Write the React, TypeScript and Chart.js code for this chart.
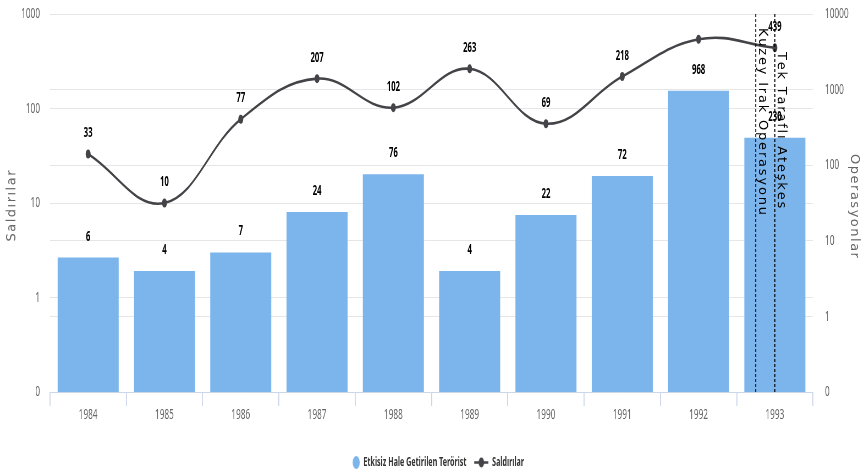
import { useEffect, useRef } from 'react';
import { Chart, registerables } from 'chart.js';

Chart.register(...registerables);

const years = ['1984', '1985', '1986', '1987', '1988', '1989', '1990', '1991', '1992', '1993'];
const etkisizHale = [6, 4, 7, 24, 76, 4, 22, 72, 968, 230];
const saldirilar = [33, 10, 77, 207, 102, 263, 69, 218, 540, 439];
const leftTicks = [0.1, 1, 10, 100, 1000];
const rightTicks = [0.1, 1, 10, 100, 1000, 10000];
const hiddenSaldiriLabels = ['1992'];
const leftTitle = 'Saldırılar';
const rightTitle = 'Operasyonlar';
const plotLines = [
  { at: 8.75, text: 'Kuzey Irak Operasyonu', offset: 14 },
  { at: 9, text: 'Tek Taraflı Ateşkes', offset: 38 },
];

// The reference is horizontally compressed; draw wide and squeeze with CSS.
const SQ = 0.55;
const OUT_W = 864;
const OUT_H = 475;
const CW = Math.round(OUT_W / SQ);

const FONT = "'Noto Sans', 'Open Sans', sans-serif";
const BAR_COLOR = '#7cb5ec';
const LINE_COLOR = '#434348';

const tickLabel = (v: any) => (Number(v) === 0.1 ? '0' : String(Number(v)));

// draw text with manual letter spacing along local x, starting at x (left) or centred
function spacedText(ctx: any, text: string, x: number, y: number, spacing: number, center: boolean) {
  const chars = Array.from(text);
  const widths = chars.map((c) => ctx.measureText(c).width);
  const total = widths.reduce((a, b) => a + b, 0) + spacing * (chars.length - 1);
  let cx = center ? x - total / 2 : x;
  ctx.textAlign = 'left';
  chars.forEach((c, i) => {
    ctx.fillText(c, cx, y);
    cx += widths[i] + spacing;
  });
}

const overlay = {
  id: 'overlay',
  afterDatasetsDraw(chart: any) {
    const ctx = chart.ctx;
    const area = chart.chartArea;
    const x = chart.scales.x;
    ctx.save();
    // dashed plot lines
    ctx.strokeStyle = '#000';
    ctx.lineWidth = 1 / SQ;
    ctx.setLineDash([3, 2]);
    plotLines.forEach((p) => {
      const px = x.getPixelForValue(p.at);
      ctx.beginPath();
      ctx.moveTo(px, area.top);
      ctx.lineTo(px, area.bottom);
      ctx.stroke();
    });
    ctx.setLineDash([]);
    // rotated annotation text (undo the horizontal squeeze)
    ctx.fillStyle = '#000';
    ctx.font = "13px 'DejaVu Sans', sans-serif";
    ctx.textBaseline = 'alphabetic';
    plotLines.forEach((p) => {
      const px = x.getPixelForValue(p.at);
      ctx.save();
      ctx.translate(px + 3 / SQ, area.top + p.offset);
      ctx.scale(1 / SQ, 1);
      ctx.rotate(Math.PI / 2);
      spacedText(ctx, p.text, 0, 0, 1.8, false);
      ctx.restore();
    });
    // axis titles
    ctx.fillStyle = '#666';
    ctx.font = "13px 'DejaVu Sans', sans-serif";
    ctx.textBaseline = 'middle';
    const midY = (area.top + area.bottom) / 2 + 3;
    ctx.save();
    ctx.translate(12 / SQ, midY);
    ctx.scale(1 / SQ, 1);
    ctx.rotate(-Math.PI / 2);
    spacedText(ctx, leftTitle, 0, 0, 1.5, true);
    ctx.restore();
    ctx.save();
    ctx.translate(chart.width - 10 / SQ, midY);
    ctx.scale(1 / SQ, 1);
    ctx.rotate(Math.PI / 2);
    spacedText(ctx, rightTitle, 0, 0, 1.5, true);
    ctx.restore();
    // value labels
    ctx.font = `bold 14px ${FONT}`;
    ctx.fillStyle = '#000';
    ctx.textAlign = 'center';
    ctx.textBaseline = 'middle';
    chart.data.datasets.forEach((ds: any, di: number) => {
      const meta = chart.getDatasetMeta(di);
      meta.data.forEach((el: any, i: number) => {
        if (ds.type === 'line' && hiddenSaldiriLabels.includes(years[i])) return;
        ctx.fillText(String(ds.data[i]), el.x, el.y - 21);
      });
    });
    ctx.restore();
  },
};

const ICON_W = 36;

function makeBarIcon() {
  const c = document.createElement('canvas');
  c.width = ICON_W;
  c.height = 13;
  const g = c.getContext('2d')!;
  g.fillStyle = BAR_COLOR;
  g.beginPath();
  g.arc(ICON_W - 6.5, 6.5, 6.5, 0, Math.PI * 2);
  g.fill();
  return c;
}

function makeLineIcon() {
  const c = document.createElement('canvas');
  c.width = ICON_W;
  c.height = 13;
  const g = c.getContext('2d')!;
  g.strokeStyle = LINE_COLOR;
  g.lineWidth = 2.5;
  g.beginPath();
  g.moveTo(ICON_W - 26, 6.5);
  g.lineTo(ICON_W, 6.5);
  g.stroke();
  g.fillStyle = LINE_COLOR;
  g.beginPath();
  g.arc(ICON_W - 13, 6.5, 5, 0, Math.PI * 2);
  g.fill();
  return c;
}

const noVPad = (s: any) => {
  s.paddingTop = 0;
  s.paddingBottom = 0;
};

export default function App() {
  const ref = useRef<HTMLCanvasElement | null>(null);

  useEffect(() => {
    document.body.style.margin = '0';
    const canvas = ref.current;
    if (!canvas) return;
    const barIcon = makeBarIcon();
    const lineIcon = makeLineIcon();

    const chart = new Chart(canvas, {
      data: {
        labels: years,
        datasets: [
          {
            type: 'bar',
            label: 'Etkisiz Hale Getirilen Terörist',
            data: etkisizHale,
            backgroundColor: BAR_COLOR,
            yAxisID: 'yR',
            categoryPercentage: 0.8,
            barPercentage: 1,
            order: 2,
          } as any,
          {
            type: 'line',
            label: 'Saldırılar',
            data: saldirilar,
            borderColor: LINE_COLOR,
            backgroundColor: LINE_COLOR,
            borderWidth: 2.6,
            tension: 0.4,
            pointStyle: 'circle',
            pointRadius: 4.5,
            pointBorderWidth: 0,
            yAxisID: 'yL',
            order: 1,
          } as any,
        ],
      },
      options: {
        animation: false,
        responsive: false,
        devicePixelRatio: 1,
        events: [],
        layout: { padding: { top: 14, left: 0, right: 0, bottom: -4 } },
        plugins: {
          tooltip: { enabled: false },
          legend: {
            position: 'bottom',
            labels: {
              usePointStyle: true,
              pointStyleWidth: ICON_W,
              padding: 4,
              color: '#333',
              font: { family: FONT, size: 13, weight: 'bold' },
              generateLabels: (ch: any) =>
                ch.data.datasets.map((ds: any, i: number) => ({
                  text: ds.label,
                  fillStyle: i === 0 ? BAR_COLOR : LINE_COLOR,
                  strokeStyle: 'transparent',
                  lineWidth: 0,
                  pointStyle: i === 0 ? barIcon : lineIcon,
                  hidden: false,
                  datasetIndex: i,
                  fontColor: '#333',
                })),
            },
          },
        },
        scales: {
          x: {
            type: 'category',
            offset: true,
            grid: {
              offset: true,
              drawOnChartArea: false,
              drawTicks: true,
              tickLength: 14,
              lineWidth: 1 / SQ,
              color: '#ccd6eb',
            },
            border: { color: '#ccd6eb' },
            ticks: { color: '#666', padding: 0, maxRotation: 0, font: { family: FONT, size: 15 } },
            afterFit: (s: any) => {
              s.height = 60;
            },
          },
          yL: {
            type: 'logarithmic',
            position: 'left',
            min: 0.1,
            max: 1000,
            afterBuildTicks: (s: any) => {
              s.ticks = leftTicks.map((v) => ({ value: v }));
            },
            ticks: { callback: tickLabel, color: '#666', padding: 10 / SQ, font: { family: FONT, size: 15 } },
            grid: { color: '#e6e6e6', drawTicks: false },
            border: { display: false },
            title: { display: false, text: leftTitle },
            afterFit: (s: any) => {
              s.width = 50 / SQ;
              noVPad(s);
            },
          },
          yR: {
            type: 'logarithmic',
            position: 'right',
            min: 0.1,
            max: 10000,
            afterBuildTicks: (s: any) => {
              s.ticks = rightTicks.map((v) => ({ value: v }));
            },
            ticks: { callback: tickLabel, color: '#666', padding: 12 / SQ, font: { family: FONT, size: 15 } },
            grid: { color: '#e6e6e6', drawTicks: false },
            border: { display: false },
            title: { display: false, text: rightTitle },
            afterFit: (s: any) => {
              s.width = 51 / SQ;
              noVPad(s);
            },
          },
        },
      } as any,
      plugins: [overlay],
    });
    return () => chart.destroy();
  }, []);

  return (
    <div style={{ width: OUT_W, height: OUT_H, position: 'relative', overflow: 'hidden' }}>
      <canvas
        ref={ref}
        width={CW}
        height={OUT_H}
        style={{ width: OUT_W, height: OUT_H, display: 'block' }}
      />
    </div>
  );
}
